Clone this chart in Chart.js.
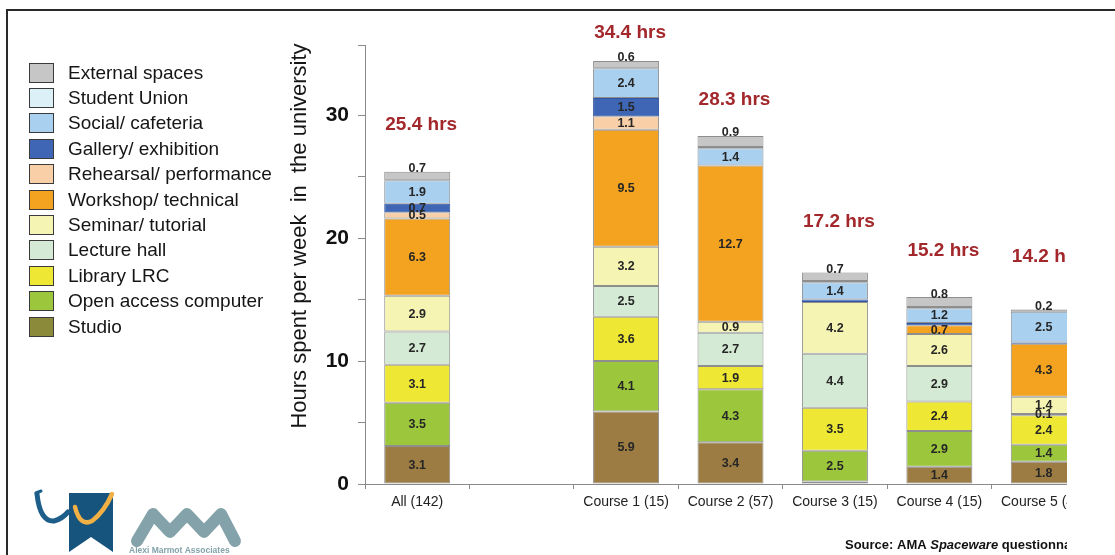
<!DOCTYPE html>
<html>
<head>
<meta charset="utf-8">
<script src="https://cdn.jsdelivr.net/npm/chart.js@4.4.1/dist/chart.umd.min.js"></script>
<style>
  html, body { margin: 0; padding: 0; background: #fff; }
  #page { position: relative; width: 1115px; height: 555px; overflow: hidden; background: #fff; }
  #chart { position: absolute; left: 0; top: 0; }
  #crop { position: absolute; left: 1067px; top: 0; width: 60px; height: 555px; background: #fff; }
  #frame { position: absolute; left: 6px; top: 9px; width: 1200px; height: 600px;
           border-left: 2px solid #2a2a2a; border-top: 2px solid #2a2a2a; }
  #legend { position: absolute; left: 29px; top: 60px; margin: 0; padding: 0; list-style: none;
            font-family: "Liberation Sans", Arial, sans-serif; font-size: 19px; color: #151515; }
  #legend li { height: 25.4px; display: flex; align-items: center; white-space: nowrap; }
  #legend .sw { width: 23px; height: 18px; border: 1.5px solid #3a3a3a; margin-right: 14px; flex: none; }
</style>
</head>
<body>
<div id="page">
  <canvas id="chart" width="1115" height="555"></canvas>
  <ul id="legend"></ul>
  <div id="crop"></div>
  <div id="frame"></div>
</div>
<script>
// Categories along the x axis (the blank one is a spacer between the overall bar and the courses)
const categories = ['All (142)', '', 'Course 1 (15)', 'Course 2 (57)', 'Course 3 (15)', 'Course 4 (15)', 'Course 5 (40)'];

// Hours per week by space type, stacked bottom to top
const studio       = [3.1, null, 5.9, 3.4, 0.2, 1.4, 1.8];
const openAccess   = [3.5, null, 4.1, 4.3, 2.5, 2.9, 1.4];
const library      = [3.1, null, 3.6, 1.9, 3.5, 2.4, 2.4];
const lectureHall  = [2.7, null, 2.5, 2.7, 4.4, 2.9, 0.1];
const seminar      = [2.9, null, 3.2, 0.9, 4.2, 2.6, 1.4];
const workshop     = [6.3, null, 9.5, 12.7, 0, 0.7, 4.3];
const rehearsal    = [0.5, null, 1.1, 0, 0, 0, 0];
const gallery      = [0.7, null, 1.5, 0, 0.2, 0.2, 0.1];
const social       = [1.9, null, 2.4, 1.4, 1.4, 1.2, 2.5];
const studentUnion = [0, null, 0, 0.1, 0.1, 0.1, 0];
const external     = [0.7, null, 0.6, 0.9, 0.7, 0.8, 0.2];

// Y axis tick positions (labels only on the tens)
const yTicks = [0, 5, 10, 15, 20, 25, 30];
const yMax = 35.7;

const series = [
  { label: 'Studio',                 data: studio,       color: '#9c7c43', swatch: '#8a8a3a' },
  { label: 'Open access computer',   data: openAccess,   color: '#9cc63c' },
  { label: 'Library LRC',            data: library,      color: '#eee834' },
  { label: 'Lecture hall',           data: lectureHall,  color: '#d4ead4' },
  { label: 'Seminar/ tutorial',      data: seminar,      color: '#f6f4b3' },
  { label: 'Workshop/ technical',    data: workshop,     color: '#f4a321' },
  { label: 'Rehearsal/ performance', data: rehearsal,    color: '#f9cfa7' },
  { label: 'Gallery/ exhibition',    data: gallery,      color: '#3f66b5', border: '#2f55a3' },
  { label: 'Social/ cafeteria',      data: social,       color: '#a9d1ef' },
  { label: 'Student Union',          data: studentUnion, color: '#dcf0f8' },
  { label: 'External spaces',        data: external,     color: '#c6c6c6' }
];

// Slivers too thin to carry a value label (series label -> category indexes)
const unlabelled = {
  'Studio': [4],
  'Gallery/ exhibition': [4, 5, 6],
  'Student Union': [3, 4, 5]
};

// How far (px) each total sits above its bar
const totalLift = [47, 0, 28, 36, 51, 46, 53];

const FONT = '"Liberation Sans", Arial, sans-serif';

// Legend, top entry = top of the stack
const legendEl = document.getElementById('legend');
series.slice().reverse().forEach(s => {
  const li = document.createElement('li');
  const sw = document.createElement('span');
  sw.className = 'sw';
  sw.style.background = s.swatch || s.color;
  li.appendChild(sw);
  li.appendChild(document.createTextNode(s.label));
  legendEl.appendChild(li);
});

function drawLogos(ctx) {
  ctx.save();
  // banner
  ctx.fillStyle = '#17547d';
  ctx.beginPath();
  ctx.moveTo(69, 493); ctx.lineTo(113, 493); ctx.lineTo(113, 552);
  ctx.lineTo(91, 537); ctx.lineTo(69, 552); ctx.closePath(); ctx.fill();
  // dark swoosh on the left
  ctx.strokeStyle = '#1d5e8a'; ctx.lineCap = 'round';
  ctx.lineWidth = 5;
  ctx.beginPath(); ctx.moveTo(37, 494); ctx.quadraticCurveTo(40, 522, 54, 521); ctx.quadraticCurveTo(62, 519, 68, 512); ctx.stroke();
  ctx.lineWidth = 3;
  ctx.beginPath(); ctx.moveTo(36, 493); ctx.lineTo(41, 491); ctx.stroke();
  // gold swoosh
  ctx.strokeStyle = '#f0b044'; ctx.lineWidth = 4.5;
  ctx.beginPath(); ctx.moveTo(75, 507); ctx.quadraticCurveTo(80, 527, 92, 521); ctx.quadraticCurveTo(104, 512, 112, 494); ctx.stroke();
  // AMA mark
  ctx.strokeStyle = '#83a2aa'; ctx.lineWidth = 12; ctx.lineJoin = 'round'; ctx.lineCap = 'round';
  ctx.beginPath();
  ctx.moveTo(137, 541); ctx.lineTo(153, 514); ctx.lineTo(170, 532); ctx.lineTo(187, 514);
  ctx.lineTo(204, 532); ctx.lineTo(221, 514); ctx.lineTo(235, 541);
  ctx.stroke();
  ctx.fillStyle = '#83a2aa';
  ctx.font = 'bold 8.5px ' + FONT;
  ctx.textAlign = 'left'; ctx.textBaseline = 'alphabetic';
  ctx.fillText('Alexi Marmot Associates', 129, 553, 110);
  ctx.restore();
}

const annotate = {
  id: 'annotate',
  afterDatasetsDraw(chart) {
    const ctx = chart.ctx;
    const n = chart.data.datasets.length;
    ctx.save();
    ctx.textAlign = 'center';
    ctx.textBaseline = 'middle';
    ctx.fillStyle = '#262626';
    ctx.font = 'bold 12.5px ' + FONT;
    chart.data.datasets.forEach((ds, di) => {
      const meta = chart.getDatasetMeta(di);
      const skip = unlabelled[ds.label] || [];
      meta.data.forEach((bar, i) => {
        const v = ds.data[i];
        if (!v || skip.includes(i)) return;
        const y = di === n - 1 ? bar.y - 3 : (bar.y + bar.base) / 2 + 0.5;
        ctx.fillText(v.toFixed(1), bar.x, y);
      });
    });
    // stack totals
    ctx.fillStyle = '#a3282c';
    ctx.font = 'bold 19px ' + FONT;
    const yScale = chart.scales.y;
    categories.forEach((c, i) => {
      let total = 0, has = false;
      chart.data.datasets.forEach(ds => { if (ds.data[i] != null) { total += ds.data[i]; has = true; } });
      if (!has) return;
      const x = chart.getDatasetMeta(0).data[i].x + 4;
      const y = yScale.getPixelForValue(total) - totalLift[i];
      ctx.fillText(total.toFixed(1) + ' hrs', x, y);
    });
    ctx.restore();
  },
  afterDraw(chart) {
    const ctx = chart.ctx;
    ctx.save();
    // y axis title
    ctx.translate(300, 236);
    ctx.rotate(-Math.PI / 2);
    ctx.textAlign = 'center';
    ctx.textBaseline = 'middle';
    ctx.fillStyle = '#151515';
    ctx.font = '22px ' + FONT;
    ctx.fillText('Hours spent per week  in  the university', 0, 0);
    ctx.restore();

    // source note
    ctx.save();
    ctx.fillStyle = '#111';
    ctx.textBaseline = 'alphabetic';
    ctx.textAlign = 'left';
    let x = 845;
    const y = 549;
    const parts = [['bold 13px ', 'Source: AMA '], ['italic bold 13px ', 'Spaceware'], ['bold 13px ', ' questionnaire']];
    parts.forEach(([f, t]) => { ctx.font = f + FONT; ctx.fillText(t, x, y); x += ctx.measureText(t).width; });
    ctx.restore();

    drawLogos(ctx);
  }
};

new Chart(document.getElementById('chart'), {
  type: 'bar',
  data: {
    labels: categories,
    datasets: series.map(s => ({
      label: s.label,
      data: s.data,
      backgroundColor: s.color,
      borderColor: s.border || '#8e8e8e',
      borderWidth: 1,
      borderSkipped: false,
      barPercentage: 0.632,
      categoryPercentage: 1
    }))
  },
  options: {
    responsive: false,
    animation: false,
    layout: { padding: { top: 45, right: 19, left: 0, bottom: 0 } },
    plugins: { legend: { display: false }, tooltip: { enabled: false } },
    scales: {
      x: {
        stacked: true,
        grid: { drawOnChartArea: false, drawTicks: true, tickLength: 5, color: '#8a8a8a', offset: true },
        border: { color: '#8a8a8a', width: 1 },
        ticks: { color: '#222', font: { family: FONT, size: 14 }, padding: 5, maxRotation: 0, autoSkip: false },
        afterFit(s) { s.height = 71; }
      },
      y: {
        stacked: true,
        min: 0,
        max: yMax,
        afterFit(s) { s.width = 365; },
        afterBuildTicks(s) { s.ticks = yTicks.concat([yMax]).map(v => ({ value: v })); },
        grid: { drawOnChartArea: false, drawTicks: true, tickLength: 7, color: '#8a8a8a' },
        border: { color: '#8a8a8a', width: 1 },
        ticks: {
          color: '#111',
          font: { family: FONT, size: 21, weight: 'bold' },
          padding: 9,
          callback: v => (v % 10 === 0 ? String(v) : '')
        }
      }
    }
  },
  plugins: [annotate]
});
</script>
</body>
</html>
